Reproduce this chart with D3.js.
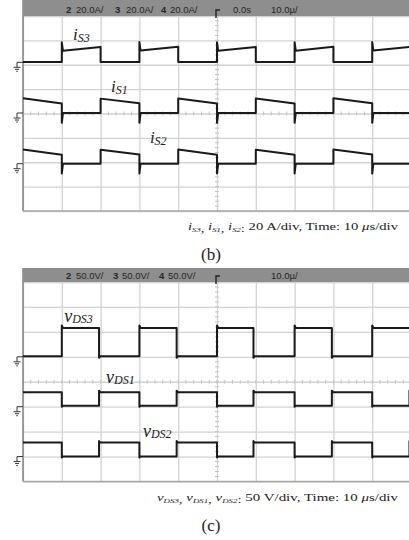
<!DOCTYPE html>
<meta charset='utf-8'>
<style>
  body { margin: 0; background: #fff; }
  svg { display: block; background: #fff; }
  .grid line { stroke: #d3d3d3; stroke-width: 1.3; }
  .grid path { display: none; }
  .minor line { stroke: #c4c4c4; stroke-width: 1; }
  .trace { fill: none; stroke: #1a1a1a; stroke-width: 2; stroke-linejoin: round; }
  .gnd { fill: none; stroke: #333; stroke-width: 1; }
  .hdr text { font-family: 'Liberation Sans', Arial, sans-serif; font-size: 9.5px; fill: #262626; }
  .lbl { font-family: 'Liberation Serif', 'DejaVu Serif', serif; font-style: italic; fill: #222; }
  .cap { font-family: 'Liberation Serif', 'DejaVu Serif', serif; fill: #222; }
</style>
<body>
<div id='viz'></div>
<script src='https://d3js.org/d3.v7.min.js'></script>
<script>

// Scope screen: 10 horizontal divisions of 10 us, 8 vertical divisions
var timeDomainUs = [0, 100];
var divDomain = [-4, 4];
var gridTimesUs = [0, 10, 20, 30, 40, 50, 60, 70, 80, 90, 100];
var gridDivs = [-4, -3, -2, -1, 0, 1, 2, 3, 4];

// (b) switch currents, 20 A/div
var iAmpsPerDiv = 20;
var iNames = ['iS3', 'iS1', 'iS2'];
var iGroundDiv = [2.1, 0.02, -2.06];
var iLowA = [0.3, 0, 0];
var iRiseSpikeA = [7, 0, 0];
var iFallSpikeA = [0, -8, -8];
var iS3Start = [10, 30, 50, 70, 90];
var iS3End = [20, 40, 60, 80, 100];
var iS3OnA = [9.4, 9.6, 9.4, 9.5, 9.6];
var iS3OffA = [12.6, 12.8, 12.6, 12.7, 12.8];
var iS1Start = [0, 20, 40, 60, 80];
var iS1End = [10, 30, 50, 70, 90];
var iS1OnA = [12.2, 11.8, 12.0, 12.0, 12.2];
var iS1OffA = [7.9, 8.0, 7.8, 7.9, 8.0];
var iS2Start = [0, 20, 40, 60, 80];
var iS2End = [10, 30, 50, 70, 90];
var iS2OnA = [11.6, 11.4, 11.6, 11.5, 11.6];
var iS2OffA = [7.4, 7.5, 7.4, 7.4, 7.5];

// (c) drain-source voltages, 50 V/div
var vVoltsPerDiv = 50;
var vNames = ['vDS3', 'vDS1', 'vDS2'];
var vGroundDiv = [1.0, -1.0, -3.0];
var vLowV = [1, 2, 0];
var vRiseSpikeV = [5, 3, 3];
var vFallSpikeV = [-3, -2, -2];
var vDS3Start = [10, 30, 50, 70, 90];
var vDS3End = [19.6, 39.6, 59.4, 79.6, 100];
var vDS3HighV = [58, 58, 58, 58, 58];
var vDS1Start = [0, 19.6, 39.6, 59.4, 79.6, 99.6];
var vDS1End = [10, 30, 50, 70, 90, 100];
var vDS1HighV = [29, 29, 29, 29, 29, 29];
var vDS2Start = [0, 19.6, 39.6, 59.4, 79.6, 99.6];
var vDS2End = [10, 30, 50, 70, 90, 100];
var vDS2HighV = [28, 28, 28, 28, 28, 28];

var W = 409, H = 540;
var svg = d3.select('#viz').append('svg').attr('width', W).attr('height', H);

// turn pulse lists into [time, value] points, edges are vertical
function pulseTrace(starts, ends, on, off, low, riseSpike, fallSpike) {
  var pts = [];
  if (starts[0] > 0) pts.push([0, low]);
  starts.forEach(function(t0, k) {
    var t1 = ends[k];
    if (t0 > 0) {
      pts.push([t0, low]);
      if (riseSpike) pts.push([t0, on[k] + riseSpike]);
    }
    pts.push([t0 > 0 && riseSpike ? t0 + 0.3 : t0, on[k]]);
    pts.push([t1, off[k]]);
    if (t1 < 100) {
      if (fallSpike) pts.push([t1, low + fallSpike]);
      pts.push([fallSpike ? t1 + 0.3 : t1, low]);
    }
  });
  if (ends[ends.length - 1] < 100) pts.push([100, low]);
  return pts;
}

function drawScope(p) {
  var x = d3.scaleLinear().domain(timeDomainUs).range([23, 411]);
  var y = d3.scaleLinear().domain(divDomain).range([p.bottom, p.top]);
  var g = svg.append('g');

  // grid through the axes
  g.append('g').attr('class', 'grid')
    .attr('transform', 'translate(0,' + p.top + ')')
    .call(d3.axisTop(x).tickValues(gridTimesUs).tickSize(-(p.bottom - p.top)).tickFormat(''));
  g.append('g').attr('class', 'grid')
    .attr('transform', 'translate(23,0)')
    .call(d3.axisLeft(y).tickValues(gridDivs).tickSize(-(411 - 23)).tickFormat(''));

  // minor ticks on the centre lines
  var minorT = d3.range(0, 100.01, 2), minorD = d3.range(-4, 4.01, 0.2);
  g.append('g').attr('class', 'minor').selectAll('line').data(minorT).enter().append('line')
    .attr('x1', function(d) { return x(d); }).attr('x2', function(d) { return x(d); })
    .attr('y1', y(0) - 2).attr('y2', y(0) + 2);
  g.append('g').attr('class', 'minor').selectAll('line').data(minorD).enter().append('line')
    .attr('x1', x(50) - 2).attr('x2', x(50) + 2)
    .attr('y1', function(d) { return y(d); }).attr('y2', function(d) { return y(d); });

  // frame
  g.append('line').attr('x1', 23).attr('x2', 23).attr('y1', p.headTop).attr('y2', p.bottom)
    .attr('stroke', '#8a8a8a').attr('stroke-width', 1.6);
  g.append('line').attr('x1', 23).attr('x2', 411).attr('y1', p.bottom).attr('y2', p.bottom)
    .attr('stroke', '#a8a8a8').attr('stroke-width', 1.6);

  // header bar
  g.append('rect').attr('x', 23).attr('y', p.headTop).attr('width', 411 - 23).attr('height', p.top - p.headTop)
    .attr('fill', '#8e8e8e');
  var hdr = g.append('g').attr('class', 'hdr');
  p.header.forEach(function(h) {
    hdr.append('text').attr('x', h[0]).attr('y', p.top - 3.5)
      .attr('font-weight', h[2] ? 'bold' : 'normal').attr('fill', h[2] ? '#111' : '#262626')
      .text(h[1]);
  });
  // trigger marker
  g.append('path').attr('d', 'M' + (x(50) - 1) + ',' + (p.top + 2) + 'V' + (p.top - 6) + 'h4')
    .attr('fill', 'none').attr('stroke', '#222').attr('stroke-width', 1.4);

  // traces and ground markers
  var line = d3.line()
    .x(function(d) { return x(d[0]); })
    .y(function(d) { return y(d[1]); });
  p.traces.forEach(function(tr) {
    var pts = tr.pts.map(function(d) { return [d[0], tr.gnd + d[1] / tr.perDiv]; });
    g.append('path').attr('class', 'trace').attr('d', line(pts));
    var gy = y(tr.gnd);
    g.append('path').attr('class', 'gnd')
      .attr('d', 'M23,' + gy + 'H17V' + (gy + 5) + 'M13.5,' + (gy + 5) + 'h7M15,' + (gy + 7) + 'h4M16.3,' + (gy + 9) + 'h1.6');
  });

  // trace labels
  p.labels.forEach(function(l) {
    var t = g.append('text').attr('class', 'lbl').attr('x', x(l.t)).attr('y', y(l.d)).attr('font-size', l.main);
    t.append('tspan').text(l.sym);
    t.append('tspan').attr('font-size', l.sub).attr('dy', l.dy).text(l.subText);
  });

  // caption
  var cap = g.append('text').attr('class', 'cap').attr('x', p.capX).attr('y', p.capY)
    .attr('font-size', 11).attr('textLength', p.capLen).attr('lengthAdjust', 'spacingAndGlyphs');
  p.capNames.forEach(function(n, k) {
    cap.append('tspan').attr('font-style', 'italic').attr('dy', k ? -1.5 : 0).text(n.charAt(0));
    cap.append('tspan').attr('font-style', 'italic').attr('font-size', 6.5).attr('dy', 1.5).text(n.slice(1));
    cap.append('tspan').text(k < p.capNames.length - 1 ? ', ' : ':');
  });
  cap.append('tspan').attr('dy', -1.5).text(' ' + p.capRest1 + ' ');
  cap.append('tspan').attr('font-style', 'italic').text('\u03bc');
  cap.append('tspan').text('s/div');

  svg.append('text').attr('class', 'cap').attr('x', 211).attr('y', p.letterY)
    .attr('text-anchor', 'middle').attr('font-size', 17).text(p.letter);
}

drawScope({
  headTop: 0, top: 16, bottom: 211,
  header: [[66, '2', true], [76, '20.0A/'], [115, '3', true], [126, '20.0A/'],
           [161, '4', true], [170, '20.0A/'], [233, '0.0s'], [271, '10.0\u00b5/']],
  traces: [
    { gnd: iGroundDiv[0], perDiv: iAmpsPerDiv, pts: pulseTrace(iS3Start, iS3End, iS3OnA, iS3OffA, iLowA[0], iRiseSpikeA[0], iFallSpikeA[0]) },
    { gnd: iGroundDiv[1], perDiv: iAmpsPerDiv, pts: pulseTrace(iS1Start, iS1End, iS1OnA, iS1OffA, iLowA[1], iRiseSpikeA[1], iFallSpikeA[1]) },
    { gnd: iGroundDiv[2], perDiv: iAmpsPerDiv, pts: pulseTrace(iS2Start, iS2End, iS2OnA, iS2OffA, iLowA[2], iRiseSpikeA[2], iFallSpikeA[2]) }
  ],
  labels: [
    { sym: 'i', subText: 'S3', t: 12.9, d: 3.0, main: 17, sub: 12, dy: 2 },
    { sym: 'i', subText: 'S1', t: 22.7, d: 0.87, main: 17, sub: 12, dy: 2 },
    { sym: 'i', subText: 'S2', t: 32.7, d: -1.2, main: 17, sub: 12, dy: 2 }
  ],
  capNames: iNames, capRest1: '20 A/div, Time: 10', capX: 188, capY: 230, capLen: 210,
  letter: '(b)', letterY: 260
});

drawScope({
  headTop: 268, top: 282, bottom: 481.5,
  header: [[66, '2', true], [76, '50.0V/'], [113, '3', true], [122, '50.0V/'],
           [159, '4', true], [168, '50.0V/'], [271, '10.0\u00b5/']],
  traces: [
    { gnd: vGroundDiv[0], perDiv: vVoltsPerDiv, pts: pulseTrace(vDS3Start, vDS3End, vDS3HighV, vDS3HighV, vLowV[0], vRiseSpikeV[0], vFallSpikeV[0]) },
    { gnd: vGroundDiv[1], perDiv: vVoltsPerDiv, pts: pulseTrace(vDS1Start, vDS1End, vDS1HighV, vDS1HighV, vLowV[1], vRiseSpikeV[1], vFallSpikeV[1]) },
    { gnd: vGroundDiv[2], perDiv: vVoltsPerDiv, pts: pulseTrace(vDS2Start, vDS2End, vDS2HighV, vDS2HighV, vLowV[2], vRiseSpikeV[2], vFallSpikeV[2]) }
  ],
  labels: [
    { sym: 'v', subText: 'DS3', t: 10.6, d: 2.4, main: 18, sub: 12, dy: 1 },
    { sym: 'v', subText: 'DS1', t: 21.4, d: -0.04, main: 18, sub: 12, dy: 1 },
    { sym: 'v', subText: 'DS2', t: 30.9, d: -2.2, main: 18, sub: 12, dy: 1 }
  ],
  capNames: vNames, capRest1: '50 V/div, Time: 10', capX: 157, capY: 501, capLen: 241,
  letter: '(c)', letterY: 531
});

</script>
</body>
